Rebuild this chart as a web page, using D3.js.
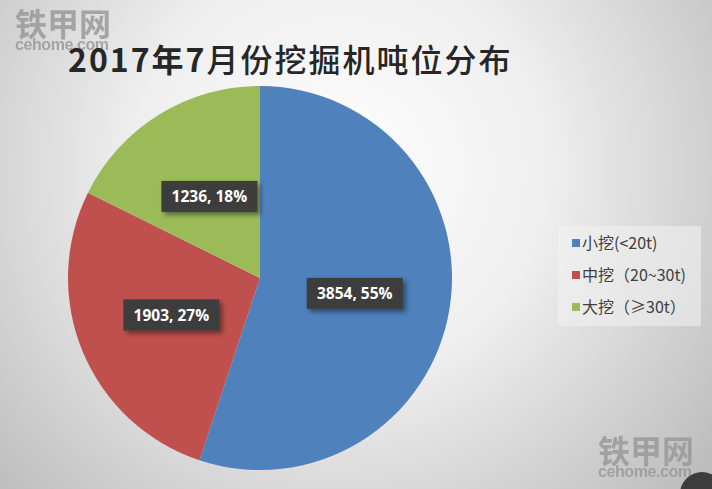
<!DOCTYPE html>
<html><head><meta charset="utf-8">
<script src="https://cdn.jsdelivr.net/npm/d3@7/dist/d3.min.js"></script>
<style>html,body{margin:0;padding:0;overflow:hidden;background:#fff}</style>
</head><body>
<script>
const categories = ["小挖(<20t)", "中挖（20~30t)", "大挖（≥30t）"];
const values = [3854, 1903, 1236];
const percents = ["55%", "27%", "18%"];
const colors = ["#4f81bd", "#c0504d", "#9bbb59"];
const titleParts = [["2017", 700], ["年", 600], ["7", 700], ["月份挖掘机吨位分布", 500]];

const W = 712, H = 489;
const svg = d3.select("body").append("svg").attr("width", W).attr("height", H);
const defs = svg.append("defs");
const rg = defs.append("radialGradient").attr("id", "bg")
  .attr("gradientUnits", "userSpaceOnUse").attr("cx", 340).attr("cy", 170).attr("r", 470);
rg.append("stop").attr("offset", "0%").attr("stop-color", "#ffffff");
rg.append("stop").attr("offset", "45%").attr("stop-color", "#eeeeee");
rg.append("stop").attr("offset", "100%").attr("stop-color", "#bdbdbd");
svg.append("rect").attr("width", W).attr("height", H).attr("fill", "url(#bg)");

const sh = defs.append("filter").attr("id", "sh").attr("x", "-20%").attr("y", "-20%").attr("width", "150%").attr("height", "160%");
sh.append("feDropShadow").attr("dx", 3).attr("dy", 3).attr("stdDeviation", 2.5).attr("flood-color", "#000").attr("flood-opacity", 0.45);
const pat = defs.append("pattern").attr("id", "dots").attr("width", 4).attr("height", 4).attr("patternUnits", "userSpaceOnUse");
pat.append("rect").attr("width", 4).attr("height", 4).attr("fill", "#3b3b3b");
pat.append("rect").attr("x", 1).attr("y", 1).attr("width", 1).attr("height", 1).attr("fill", "#4a4a4a");
pat.append("rect").attr("x", 3).attr("y", 3).attr("width", 1).attr("height", 1).attr("fill", "#4a4a4a");

// watermarks
const wm = (x, y) => {
  const g = svg.append("g").attr("transform", `translate(${x},${y})`).attr("fill", "#9a9a9a").attr("opacity", 0.85);
  g.append("text").attr("x", 0).attr("y", 28).attr("font-family", "Noto Sans CJK SC").attr("font-weight", 700)
    .attr("font-size", 32).attr("textLength", 96).text("铁甲网");
  g.append("text").attr("x", 0).attr("y", 42).attr("font-family", "Liberation Sans, Arial").attr("font-weight", 700)
    .attr("font-size", 16).attr("textLength", 94).text("cehome.com");
};
wm(15, 8);
wm(598, 435);

// title
const tt = svg.append("text").attr("x", 68).attr("y", 72)
  .attr("font-family", "Noto Sans CJK SC").attr("font-size", 32).attr("letter-spacing", 2)
  .attr("fill", "#262626");
titleParts.forEach(([s, w]) => tt.append("tspan").attr("font-weight", w).text(s));

// pie
const cx = 260, cy = 278, R = 192;
const pie = d3.pie().sort(null).value(d => d)(values);
const arc = d3.arc().innerRadius(0).outerRadius(R);
const labelArc = d3.arc().innerRadius(R * 0.5).outerRadius(R * 0.5);
const g = svg.append("g").attr("transform", `translate(${cx},${cy})`);
g.selectAll("path").data(pie).join("path").attr("d", arc).attr("fill", (d, i) => colors[i]);

pie.forEach((d, i) => {
  const [lx, ly] = labelArc.centroid(d);
  const txt = `${values[i]}, ${percents[i]}`;
  const lg = g.append("g").attr("transform", `translate(${lx},${ly})`);
  const bw = 96, bh = 31;
  lg.append("rect").attr("x", -bw / 2).attr("y", -bh / 2).attr("width", bw).attr("height", bh)
    .attr("fill", "url(#dots)").attr("filter", "url(#sh)");
  lg.append("text").attr("text-anchor", "middle").attr("y", 6)
    .attr("font-family", "Open Sans, DejaVu Sans").attr("font-weight", 700).attr("font-size", 15.5)
    .attr("fill", "#fff").text(txt);
});

// legend
const leg = svg.append("g").attr("transform", "translate(558,226)");
leg.append("rect").attr("width", 143).attr("height", 100).attr("fill", "#f3f3f3").attr("opacity", 0.55);
categories.forEach((c, i) => {
  const y = 17 + i * 32;
  leg.append("rect").attr("x", 14).attr("y", y - 4).attr("width", 8).attr("height", 8).attr("fill", colors[i]);
  leg.append("text").attr("x", 24).attr("y", y + 6).attr("font-family", "Noto Sans CJK SC").attr("font-size", 16)
    .attr("fill", "#404040").text(c);
});

// corner overlay
svg.append("circle").attr("cx", 702).attr("cy", 494).attr("r", 22).attr("fill", "#3d3d3d");
</script>
</body></html>
